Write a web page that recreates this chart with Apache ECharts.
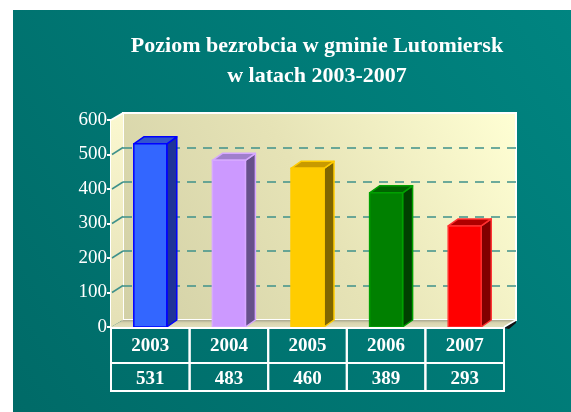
<!DOCTYPE html>
<html>
<head>
<meta charset="utf-8">
<script src="https://cdn.jsdelivr.net/npm/echarts@6/dist/echarts.min.js"></script>
<style>
  html, body { margin: 0; padding: 0; background: #fff; }
  #chart { width: 571px; height: 412px; }
</style>
</head>
<body>
<div id="chart"></div>
<script>
// dane
const years = ["2003", "2004", "2005", "2006", "2007"];
const unemployed = [531, 483, 460, 389, 293];
const yTicks = [100, 200, 300, 400, 500];

// kolory słupków: przód, bok, góra, obrys
const barColors = [
  { front: "#3366ff", side: "#1f3399", top: "#3355cc", edge: "#0000ff" },
  { front: "#cc99ff", side: "#66508a", top: "#a07fcc", edge: "#d6a8ff" },
  { front: "#ffcc00", side: "#806600", top: "#c89a00", edge: "#ffcc00" },
  { front: "#008000", side: "#004000", top: "#006400", edge: "#00a000" },
  { front: "#ff0000", side: "#800000", top: "#b00000", edge: "#ff3030" },
];

// geometria wykresu (przednia płaszczyzna + przesunięcie ściany tylnej)
const G = { left: 111, top: 120, width: 393, height: 207 };
const DX = 12, DY = -7;     // głębokość ścian
const BDX = 10, BDY = -7;   // głębokość słupków
const BAR_W = 33;
const FONT = "Liberation Serif";

const chart = echarts.init(document.getElementById("chart"));

const gL = G.left, gT = G.top, gR = G.left + G.width, gB = G.top + G.height;

const option = {
  animation: false,
  backgroundColor: new echarts.graphic.LinearGradient(0, 1, 1, 0, [
    { offset: 0, color: "#006a67" },
    { offset: 1, color: "#008581" },
  ]),
  title: {
    text: "Poziom bezrobcia w gminie Lutomiersk\nw latach 2003-2007",
    left: 312,
    top: 26,
    textAlign: "center",
    textStyle: {
      color: "#fff",
      fontFamily: FONT,
      fontWeight: "bold",
      fontSize: 22,
      lineHeight: 30,
    },
  },
  grid: [
    // przód (oś Y, słupki, tabela)
    { left: G.left, top: G.top, width: G.width, height: G.height },
    // tylna ściana
    {
      left: G.left + DX,
      top: G.top + DY,
      width: G.width,
      height: G.height,
      show: true,
      backgroundColor: new echarts.graphic.LinearGradient(0, 1, 1, 0, [
        { offset: 0, color: "#d2d0a6" },
        { offset: 0.5, color: "#e6e3b6" },
        { offset: 1, color: "#ffffd4" },
      ]),
      borderColor: "#fff",
      borderWidth: 2,
    },
  ],
  xAxis: [
    { type: "category", data: years, gridIndex: 0, show: false },
    { type: "category", data: years, gridIndex: 1, show: false },
  ],
  yAxis: [
    {
      type: "value",
      gridIndex: 0,
      min: 0,
      max: 600,
      interval: 100,
      axisLine: { show: true, lineStyle: { color: "#fff", width: 2 } },
      axisTick: { show: true, length: 4, lineStyle: { color: "#fff", width: 2 } },
      axisLabel: { color: "#fff", fontFamily: FONT, fontSize: 19, margin: 4 },
      splitLine: { show: false },
    },
    {
      type: "value",
      gridIndex: 1,
      min: 0,
      max: 600,
      interval: 100,
      axisLine: { show: false },
      axisTick: { show: false },
      axisLabel: { show: false },
      splitLine: {
        show: true,
        showMinLine: false,
        showMaxLine: false,
        lineStyle: { color: "#3f918b", width: 1.5, type: [9, 7] },
      },
    },
  ],
  graphic: [
    // biały margines
    { type: "rect", shape: { x: 0, y: 0, width: 13, height: 412 }, style: { fill: "#fff" }, z: 10 },
    { type: "rect", shape: { x: 0, y: 0, width: 571, height: 10 }, style: { fill: "#fff" }, z: 10 },
    // lewa ściana
    {
      type: "polygon",
      z: 1,
      shape: { points: [[gL, gT], [gL + DX, gT + DY], [gL + DX, gB + DY], [gL, gB]] },
      style: {
        fill: new echarts.graphic.LinearGradient(0, 0, 0, 1, [
          { offset: 0, color: "#fbf8d0" },
          { offset: 1, color: "#e4e0b6" },
        ]),
      },
    },
    {
      type: "polyline",
      z: 3,
      shape: { points: [[gL, gT], [gL + DX, gT + DY]] },
      style: { stroke: "#fff", lineWidth: 2 },
    },
    // podłoga
    {
      type: "polygon",
      z: 1,
      shape: { points: [[gL, gB], [gL + DX, gB + DY], [gR + DX, gB + DY], [gR, gB]] },
      style: {
        fill: new echarts.graphic.LinearGradient(0, 0, 0, 1, [
          { offset: 0, color: "#a9a78f" },
          { offset: 0.4, color: "#d8d4b0" },
          { offset: 1, color: "#e2dfbc" },
        ]),
      },
    },
    {
      type: "polygon",
      z: 1,
      shape: { points: [[gR, gB + 1], [gR + DX, gB + DY], [gR + DX, gB + DY + 3], [gR + 5, gB + 2]] },
      style: { fill: "#111" },
    },
    {
      type: "polyline",
      z: 3,
      shape: { points: [[gR, gB], [gR + DX, gB + DY]] },
      style: { stroke: "#fff", lineWidth: 1.5 },
    },
  ],
  series: [
    {
      // przerywane linie na lewej ścianie
      type: "custom",
      xAxisIndex: 0,
      yAxisIndex: 0,
      z: 2,
      data: yTicks.map((v) => [0, v]),
      renderItem: (params, api) => {
        const p = api.coord([0, api.value(1)]);
        const band = api.size([1, 0])[0];
        const x0 = p[0] - band / 2;
        return {
          type: "line",
          shape: { x1: x0 + 1, y1: p[1], x2: x0 + DX, y2: p[1] + DY },
          style: { stroke: "#3f918b", lineWidth: 1.5 },
        };
      },
    },
    {
      // słupki 3D
      type: "custom",
      xAxisIndex: 0,
      yAxisIndex: 0,
      z: 5,
      clip: false,
      data: unemployed.map((v, i) => [i, v]),
      renderItem: (params, api) => {
        const i = api.value(0);
        const top = api.coord([i, api.value(1)]);
        const base = api.coord([i, 0]);
        const c = barColors[i];
        const x1 = top[0] - BAR_W / 2;
        const x2 = top[0] + BAR_W / 2;
        const y1 = top[1];
        const y2 = base[1];
        const edge = { stroke: c.edge, lineWidth: 1.5, lineJoin: "round" };
        return {
          type: "group",
          children: [
            {
              type: "polygon",
              shape: { points: [[x2, y1], [x2 + BDX, y1 + BDY], [x2 + BDX, y2 + BDY], [x2, y2]] },
              style: Object.assign({ fill: c.side }, edge),
            },
            {
              type: "polygon",
              shape: { points: [[x1, y1], [x1 + BDX, y1 + BDY], [x2 + BDX, y1 + BDY], [x2, y1]] },
              style: Object.assign({ fill: c.top }, edge),
            },
            {
              type: "rect",
              shape: { x: x1, y: y1, width: BAR_W, height: y2 - y1 },
              style: Object.assign({ fill: c.front }, edge),
            },
          ],
        };
      },
    },
    {
      // tabela pod wykresem
      type: "custom",
      xAxisIndex: 0,
      yAxisIndex: 0,
      z: 6,
      clip: false,
      data: unemployed.map((v, i) => [i, v]),
      renderItem: (params, api) => {
        const i = api.value(0);
        const p = api.coord([i, 0]);
        const band = api.size([1, 0])[0];
        const x = p[0] - band / 2;
        const y = p[1] + 1;
        const font = { fill: "#fff", fontFamily: FONT, fontWeight: "bold", fontSize: 19, align: "center", verticalAlign: "middle" };
        const cell = { fill: "none", stroke: "#fff", lineWidth: 2 };
        return {
          type: "group",
          children: [
            { type: "rect", shape: { x: x, y: y, width: band, height: 35 }, style: cell },
            { type: "rect", shape: { x: x, y: y + 35, width: band, height: 28 }, style: cell },
            { type: "text", style: Object.assign({ text: years[i], x: p[0], y: y + 18 }, font) },
            { type: "text", style: Object.assign({ text: String(api.value(1)), x: p[0], y: y + 51 }, font) },
          ],
        };
      },
    },
  ],
};

chart.setOption(option);
</script>
</body>
</html>
